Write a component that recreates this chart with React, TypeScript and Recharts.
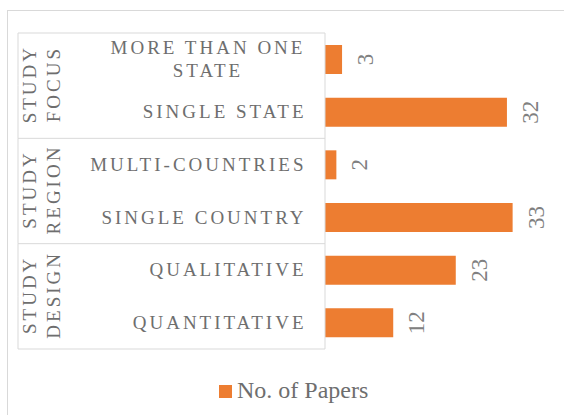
import { BarChart, Bar, XAxis, YAxis, Legend, LabelList } from "recharts";

const groups = ["STUDY FOCUS", "STUDY REGION", "STUDY DESIGN"];
const categories = [
  "MORE THAN ONE STATE",
  "SINGLE STATE",
  "MULTI-COUNTRIES",
  "SINGLE COUNTRY",
  "QUALITATIVE",
  "QUANTITATIVE",
];
const categoryGroup = [0, 0, 1, 1, 2, 2];
const papers = [3, 32, 2, 33, 23, 12];

const data = categories.map((name, i) => ({
  name,
  group: groups[categoryGroup[i]],
  papers: papers[i],
}));

const W = 564;
const H = 415;
const TOP = 33;
const BOTTOM = 66;
const AXIS_W = 325;
const BAND = (H - TOP - BOTTOM) / categories.length;
const FONT = "Times New Roman";
const ORANGE = "#ED7D31";
const LINE = "#d9d9d9";
const TEXT = "#6e6e6e";

// break long labels the way Excel wraps them
function wrap(label: string, max = 15) {
  const words = label.split(" ");
  const lines: string[] = [];
  let cur = "";
  for (const w of words) {
    if (cur && (cur + " " + w).length > max) {
      lines.push(cur);
      cur = w;
    } else {
      cur = cur ? cur + " " + w : w;
    }
  }
  if (cur) lines.push(cur);
  return lines;
}

function CategoryTick(props: any) {
  const { x, y, payload } = props;
  const i = payload?.index ?? props.index ?? 0;
  const left = x - 307;
  const lines = wrap(String(payload.value));
  const isFirst = i % 2 === 0;
  const groupName = groups[categoryGroup[i]];
  return (
    <g>
      <line x1={left} x2={left} y1={y - BAND / 2} y2={y + BAND / 2} stroke={LINE} />
      {isFirst && (
        <line x1={left} x2={x} y1={y - BAND / 2} y2={y - BAND / 2} stroke={LINE} />
      )}
      {i === categories.length - 1 && (
        <line x1={left} x2={x} y1={y + BAND / 2} y2={y + BAND / 2} stroke={LINE} />
      )}
      {lines.length === 1 ? (
        <text
          x={x - 18.5}
          y={y + 6.3}
          textAnchor="end"
          fontFamily={FONT}
          fontSize={19}
          letterSpacing={3}
          fill={TEXT}
        >
          {lines[0]}
        </text>
      ) : (
        <text textAnchor="middle" fontFamily={FONT} fontSize={19} letterSpacing={3} fill={TEXT}>
          {lines.map((l, k) => (
            <tspan key={k} x={x - 117} y={y + 6.3 + (k - (lines.length - 1) / 2) * 23.7}>
              {l}
            </tspan>
          ))}
        </text>
      )}
      {isFirst && (
        <text
          transform={`translate(${left}, ${y + BAND / 2}) rotate(-90)`}
          textAnchor="middle"
          fontFamily={FONT}
          fontSize={19}
          letterSpacing={3}
          fill={TEXT}
        >
          {groupName.split(" ").map((part, k) => (
            <tspan key={k} x={1.5} y={17.8 + k * 24.5}>
              {part}
            </tspan>
          ))}
        </text>
      )}
    </g>
  );
}

function ValueLabel(props: any) {
  const { x, y, width, height, value } = props;
  const cx = Number(x) + Number(width) + 23.5;
  const cy = Number(y) + Number(height) / 2;
  return (
    <text
      transform={`translate(${cx}, ${cy}) rotate(-90)`}
      x={0}
      y={7.6}
      textAnchor="middle"
      fontFamily={FONT}
      fontSize={23}
      fill="#808080"
    >
      {value}
    </text>
  );
}

function LegendContent() {
  return (
    <div
      style={{
        display: "flex",
        alignItems: "center",
        paddingLeft: 219,
        fontFamily: FONT,
        fontSize: 24,
        lineHeight: "27px",
        color: TEXT,
      }}
    >
      <span
        style={{
          display: "inline-block",
          width: 13,
          height: 13,
          background: ORANGE,
          marginRight: 5,
          marginTop: 1,
        }}
      />
      <span>No. of Papers</span>
    </div>
  );
}

export default function App() {
  return (
    <div
      style={{
        position: "absolute",
        left: 0,
        top: 0,
        width: W,
        height: H,
        overflow: "hidden",
        background: "#fff",
        fontFamily: FONT,
      }}
    >
      <div
        style={{
          position: "absolute",
          left: 7,
          top: 10,
          width: 600,
          height: 500,
          border: `1px solid ${LINE}`,
        }}
      />
      <div style={{ position: "absolute", left: 0, top: 0 }}>
        <BarChart
          width={W}
          height={H}
          data={data}
          layout="vertical"
          margin={{ top: TOP, right: 40, bottom: BOTTOM, left: 0 }}
          barCategoryGap="45%"
        >
          <XAxis type="number" domain={[0, 35]} hide />
          <YAxis
            type="category"
            dataKey="name"
            width={AXIS_W}
            axisLine={{ stroke: LINE }}
            tickLine={false}
            tickSize={0}
            tickMargin={0}
            interval={0}
            tick={<CategoryTick />}
          />
          <Bar dataKey="papers" name="No. of Papers" fill={ORANGE} barSize={29} isAnimationActive={false}>
            <LabelList dataKey="papers" content={<ValueLabel />} />
          </Bar>
          <Legend
            layout="horizontal"
            verticalAlign="middle"
            align="center"
            content={<LegendContent />}
            wrapperStyle={{ top: 377, left: 0, width: W }}
          />
        </BarChart>
      </div>
    </div>
  );
}
